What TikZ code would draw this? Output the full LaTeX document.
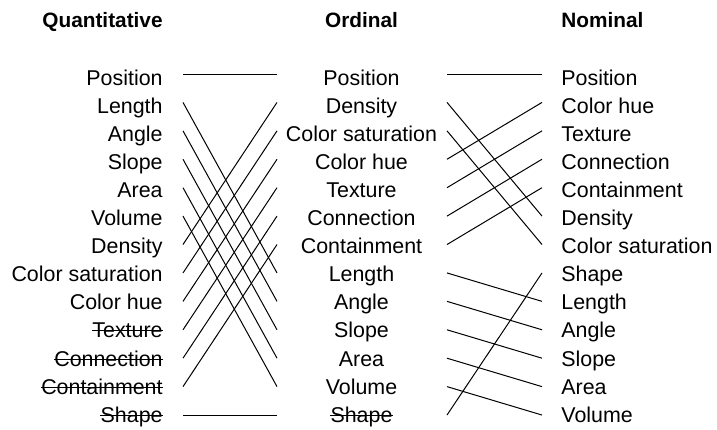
\documentclass[tikz,border=0pt]{standalone}
\usepackage{fontspec}
\setmainfont{Liberation Sans}
\usetikzlibrary{positioning}
\tikzset{
  qlab/.style={anchor=base east,inner sep=0pt,font=\fontsize{10.7}{12}\selectfont},
  olab/.style={anchor=base,inner sep=0pt,font=\fontsize{10.7}{12}\selectfont},
  nlab/.style={anchor=base west,inner sep=0pt,font=\fontsize{10.7}{12}\selectfont},
  head/.style={inner sep=0pt,font=\fontsize{10.4}{12}\selectfont\bfseries},
  link/.style={black,line width=0.5pt},
  strk/.style={black,line width=0.5pt},
}

\begin{document}
\begin{tikzpicture}[x=0.5pt,y=-0.5pt]
    \useasboundingbox (0,0) rectangle (717,429);
    % column headers
    \node[head,anchor=base east] (hq) at (163,27) {Quantitative};
    \node[head,anchor=base] (ho) at (361.5,27) {Ordinal};
    \node[head,anchor=base west] (hn) at (561,27) {Nominal};
    % left column
    \node[qlab] (q1) at (163,85.0) {Position};
    \node[qlab] (q2) at (163,113.1) {Length};
    \node[qlab] (q3) at (163,141.2) {Angle};
    \node[qlab] (q4) at (163,169.3) {Slope};
    \node[qlab] (q5) at (163,197.4) {Area};
    \node[qlab] (q6) at (163,225.5) {Volume};
    \node[qlab] (q7) at (163,253.6) {Density};
    \node[qlab] (q8) at (163,281.7) {Color saturation};
    \node[qlab] (q9) at (163,309.8) {Color hue};
    \node[qlab] (q10) at (163,337.9) {Texture};
    \node[qlab] (q11) at (163,366.0) {Connection};
    \node[qlab] (q12) at (163,394.1) {Containment};
    \node[qlab] (q13) at (163,422.2) {Shape};
    % middle column
    \node[olab] (o1) at (361.5,85.0) {Position};
    \node[olab] (o2) at (361.5,113.1) {Density};
    \node[olab] (o3) at (361.5,141.2) {Color saturation};
    \node[olab] (o4) at (361.5,169.3) {Color hue};
    \node[olab] (o5) at (361.5,197.4) {Texture};
    \node[olab] (o6) at (361.5,225.5) {Connection};
    \node[olab] (o7) at (361.5,253.6) {Containment};
    \node[olab] (o8) at (361.5,281.7) {Length};
    \node[olab] (o9) at (361.5,309.8) {Angle};
    \node[olab] (o10) at (361.5,337.9) {Slope};
    \node[olab] (o11) at (361.5,366.0) {Area};
    \node[olab] (o12) at (361.5,394.1) {Volume};
    \node[olab] (o13) at (361.5,422.2) {Shape};
    % right column
    \node[nlab] (n1) at (561,85.0) {Position};
    \node[nlab] (n2) at (561,113.1) {Color hue};
    \node[nlab] (n3) at (561,141.2) {Texture};
    \node[nlab] (n4) at (561,169.3) {Connection};
    \node[nlab] (n5) at (561,197.4) {Containment};
    \node[nlab] (n6) at (561,225.5) {Density};
    \node[nlab] (n7) at (561,253.6) {Color saturation};
    \node[nlab] (n8) at (561,281.7) {Shape};
    \node[nlab] (n9) at (561,309.8) {Length};
    \node[nlab] (n10) at (561,337.9) {Angle};
    \node[nlab] (n11) at (561,366.0) {Slope};
    \node[nlab] (n12) at (561,394.1) {Area};
    \node[nlab] (n13) at (561,422.2) {Volume};
    % struck-out labels
    \draw[strk] ([yshift=3.5pt]q10.base west) -- ([yshift=3.5pt]q10.base east);
    \draw[strk] ([yshift=3.5pt]q11.base west) -- ([yshift=3.5pt]q11.base east);
    \draw[strk] ([yshift=3.5pt]q12.base west) -- ([yshift=3.5pt]q12.base east);
    \draw[strk] ([yshift=3.5pt]q13.base west) -- ([yshift=3.5pt]q13.base east);
    \draw[strk] ([yshift=3.5pt]o13.base west) -- ([yshift=3.5pt]o13.base east);
    % line ends
    \foreach \i in {1,...,13} {
      \coordinate (a\i) at (183,74+28.42*\i-28.42);
      \coordinate (b\i) at (277,74+28.42*\i-28.42);
      \coordinate (c\i) at (447,74+28.42*\i-28.42);
      \coordinate (d\i) at (542,74+28.42*\i-28.42);
    }
    % quantitative -> ordinal
    \draw[link] (a1)--(b1); \draw[link] (a2)--(b8); \draw[link] (a3)--(b9);
    \draw[link] (a4)--(b10); \draw[link] (a5)--(b11); \draw[link] (a6)--(b12);
    \draw[link] (a7)--(b2); \draw[link] (a8)--(b3); \draw[link] (a9)--(b4);
    \draw[link] (a10)--(b5); \draw[link] (a11)--(b6); \draw[link] (a12)--(b7);
    \draw[link] (a13)--(b13);
    % ordinal -> nominal
    \draw[link] (c1)--(d1); \draw[link] (c2)--(d6); \draw[link] (c3)--(d7);
    \draw[link] (c4)--(d2); \draw[link] (c5)--(d3); \draw[link] (c6)--(d4);
    \draw[link] (c7)--(d5); \draw[link] (c8)--(d9); \draw[link] (c9)--(d10);
    \draw[link] (c10)--(d11); \draw[link] (c11)--(d12); \draw[link] (c12)--(d13);
    \draw[link] (c13)--(d8);
  \end{tikzpicture}
\end{document}
